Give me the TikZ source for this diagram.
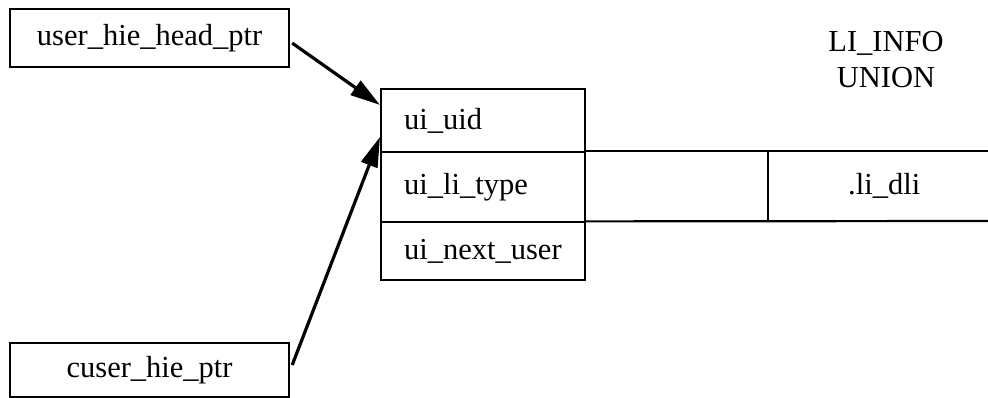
\documentclass[tikz,border=0pt]{standalone}
\usepackage{fontspec}
\setmainfont{Liberation Serif}
\usetikzlibrary{arrows.meta,calc}
\begin{document}
\begin{tikzpicture}[x=1pt,y=-1pt,
  every node/.style={font=\fontsize{30.5}{36}\selectfont, inner sep=0pt},
  ptrbox/.style={draw, line width=2.2pt, minimum width=279pt, anchor=north west},
  cell/.style={draw, line width=2.2pt, minimum width=204pt, anchor=north west, text width=158pt, align=left},
  ucell/.style={minimum height=70pt, anchor=north west},
  ptrarrow/.style={line width=3.2pt, -{Triangle[length=30pt,width=17pt]}},
  frame/.style={line width=2.2pt}]
\useasboundingbox (0,0) rectangle (988,398);
% pointer boxes
\node[ptrbox, minimum height=58pt] (uhp) at (9,8) {user\_hie\_head\_ptr};
\node[ptrbox, minimum height=54pt] (chp) at (9,342) {cuser\_hie\_ptr};
% structure
\node[cell, minimum height=63pt] (uid) at (380,88) {ui\_uid};
\node[cell, minimum height=70pt] (type) at (380,151) {ui\_li\_type};
\node[cell, minimum height=58pt] (next) at (380,221) {ui\_next\_user};
% union cells
\node[ucell, minimum width=184pt] (u1) at (584,151) {};
\node[ucell, minimum width=232pt] (u2) at (768,151) {.li\_dli};
\coordinate (uend1) at (988,151);
\coordinate (uend2) at (988,221);
\draw[frame] (u1.north west) -- (uend1);
\draw[frame] (u1.south west) -- (uend2);
\draw[frame] (u2.north west) -- (u2.south west);
% title
\node[align=center] (title) at (886,60) {LI\_INFO\\UNION};
% arrows
\coordinate (a1s) at ($(uhp.east)+(2,5)$);
\coordinate (a1e) at ($(uid.north west)+(0,17)$);
\coordinate (a2s) at ($(chp.north east)+(2,23)$);
\coordinate (a2e) at ($(uid.north west)+(0,49)$);
\draw[ptrarrow] (a1s) -- (a1e);
\draw[ptrarrow] (a2s) -- (a2e);
\end{tikzpicture}
\end{document}
